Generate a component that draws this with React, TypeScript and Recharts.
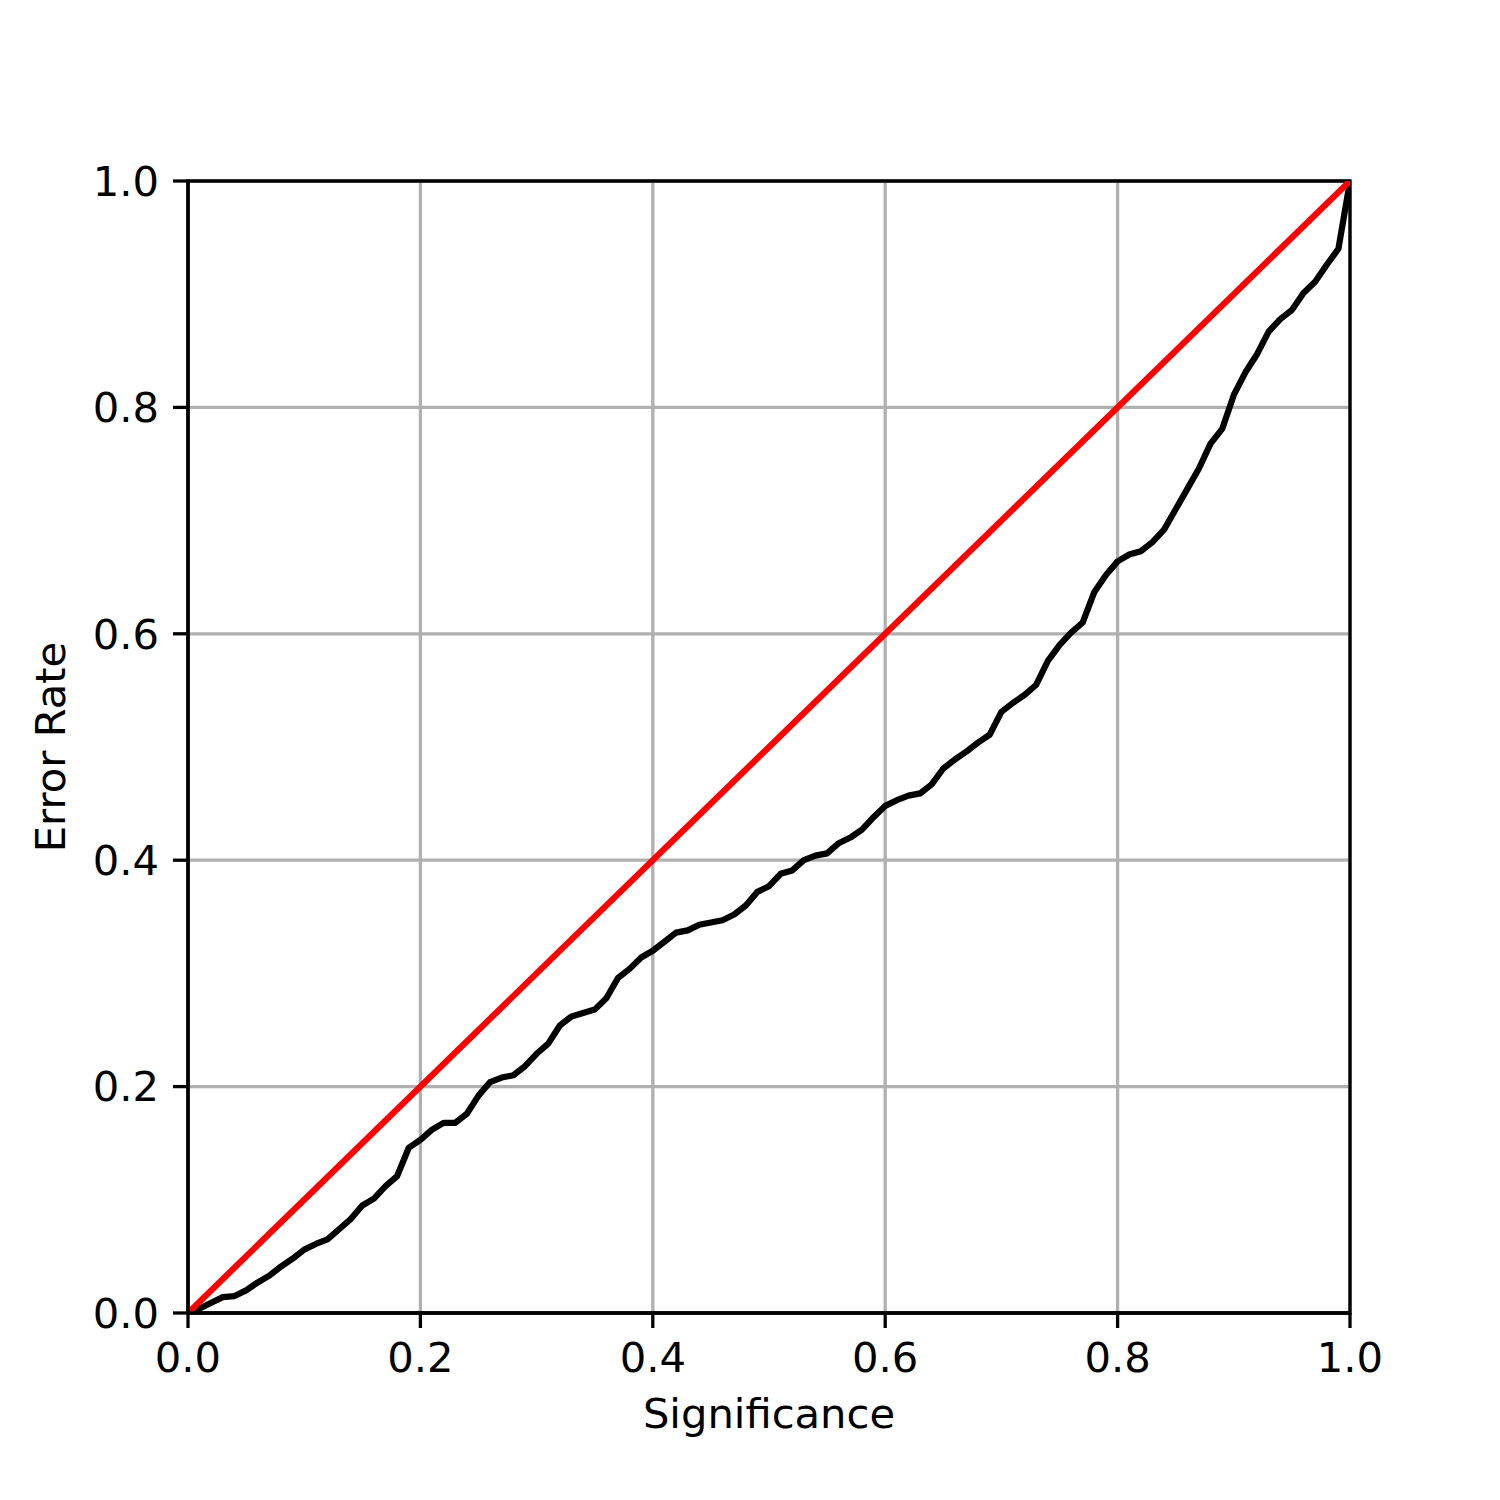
import {
  LineChart,
  Line,
  XAxis,
  YAxis,
  CartesianGrid,
  ReferenceArea,
  Label
} from 'recharts'

const significance = [
  0.0, 0.01, 0.02, 0.03, 0.04, 0.05, 0.06, 0.07, 0.08, 0.09,
  0.1, 0.11, 0.12, 0.13, 0.14, 0.15, 0.16, 0.17, 0.18, 0.19,
  0.2, 0.21, 0.22, 0.23, 0.24, 0.25, 0.26, 0.27, 0.28, 0.29,
  0.3, 0.31, 0.32, 0.33, 0.34, 0.35, 0.36, 0.37, 0.38, 0.39,
  0.4, 0.41, 0.42, 0.43, 0.44, 0.45, 0.46, 0.47, 0.48, 0.49,
  0.5, 0.51, 0.52, 0.53, 0.54, 0.55, 0.56, 0.57, 0.58, 0.59,
  0.6, 0.61, 0.62, 0.63, 0.64, 0.65, 0.66, 0.67, 0.68, 0.69,
  0.7, 0.71, 0.72, 0.73, 0.74, 0.75, 0.76, 0.77, 0.78, 0.79,
  0.8, 0.81, 0.82, 0.83, 0.84, 0.85, 0.86, 0.87, 0.88, 0.89,
  0.9, 0.91, 0.92, 0.93, 0.94, 0.95, 0.96, 0.97, 0.98, 0.99,
  1.0
]

const errorRate = [
  0.0, 0.004, 0.009, 0.014, 0.015, 0.02, 0.027, 0.033, 0.041, 0.048,
  0.056, 0.061, 0.065, 0.074, 0.083, 0.095, 0.101, 0.112, 0.121, 0.146,
  0.153, 0.162, 0.168, 0.168, 0.176, 0.192, 0.204, 0.208, 0.21, 0.218,
  0.229, 0.238, 0.254, 0.262, 0.265, 0.268, 0.278, 0.296, 0.304, 0.314,
  0.32, 0.328, 0.336, 0.338, 0.343, 0.345, 0.347, 0.352, 0.36, 0.372,
  0.377, 0.388, 0.391, 0.4, 0.404, 0.406, 0.415, 0.42, 0.427, 0.438,
  0.448, 0.453, 0.457, 0.459, 0.467, 0.481, 0.489, 0.496, 0.504, 0.511,
  0.531, 0.539, 0.546, 0.555, 0.576, 0.59, 0.601, 0.61, 0.637, 0.652,
  0.664, 0.67, 0.673, 0.681, 0.692, 0.71, 0.728, 0.746, 0.768, 0.781,
  0.811, 0.831, 0.847, 0.867, 0.878, 0.886, 0.901, 0.911, 0.926, 0.94,
  1.0
]

// ideal calibration line: error rate equals significance
const idealX = [0, 1]
const idealY = [0, 1]

const axisTicks = [0, 0.2, 0.4, 0.6, 0.8, 1.0]

const data = significance.map((s, i) => ({ s, err: errorRate[i] }))
const idealData = idealX.map((s, i) => ({ s, ideal: idealY[i] }))

const FONT = 'DejaVu Sans'
const FONT_SIZE = 41.7
const THIN = 3.3
const THICK = 6.25

const tickStyle = { fontFamily: FONT, fontSize: FONT_SIZE, fill: '#000' }

export default function App() {
  return (
    <div style={{ position: 'absolute', left: 0, top: 0, width: 1500, height: 1500, background: '#fff' }}>
      <LineChart
        width={1500}
        height={1500}
        data={data}
        margin={{ top: 181, right: 150, left: 0, bottom: 0 }}
      >
        <CartesianGrid stroke="#b0b0b0" strokeWidth={THIN} />
        <XAxis
          type="number"
          dataKey="s"
          domain={[0, 1]}
          ticks={axisTicks}
          tickFormatter={(v: number) => v.toFixed(1)}
          height={187}
          tickSize={15}
          tickMargin={14}
          tick={tickStyle}
          axisLine={{ stroke: '#000', strokeWidth: THIN }}
          tickLine={{ stroke: '#000', strokeWidth: THIN }}
          allowDataOverflow
        >
          <Label
            content={({ viewBox }: any) => (
              <text
                x={viewBox.x + viewBox.width / 2}
                y={viewBox.y + 115}
                textAnchor="middle"
                fontFamily={FONT}
                fontSize={FONT_SIZE}
                fill="#000"
              >
                Significance
              </text>
            )}
          />
        </XAxis>
        <YAxis
          type="number"
          domain={[0, 1]}
          ticks={axisTicks}
          tickFormatter={(v: number) => v.toFixed(1)}
          width={188}
          tickSize={15}
          tickMargin={14}
          tick={tickStyle}
          axisLine={{ stroke: '#000', strokeWidth: THIN }}
          tickLine={{ stroke: '#000', strokeWidth: THIN }}
          allowDataOverflow
        >
          <Label
            content={({ viewBox }: any) => {
              const cx = viewBox.x + 65
              const cy = viewBox.y + viewBox.height / 2
              return (
                <text
                  x={cx}
                  y={cy}
                  transform={`rotate(-90, ${cx}, ${cy})`}
                  textAnchor="middle"
                  fontFamily={FONT}
                  fontSize={FONT_SIZE}
                  fill="#000"
                >
                  Error Rate
                </text>
              )
            }}
          />
        </YAxis>
        <Line
          type="linear"
          dataKey="err"
          stroke="#000"
          strokeWidth={THICK}
          strokeLinejoin="round"
          dot={false}
          activeDot={false}
          isAnimationActive={false}
        />
        <Line
          type="linear"
          data={idealData}
          dataKey="ideal"
          stroke="#ff0000"
          strokeWidth={THICK}
          dot={false}
          activeDot={false}
          isAnimationActive={false}
        />
        <ReferenceArea
          x1={0}
          x2={1}
          y1={0}
          y2={1}
          fill="none"
          stroke="#000"
          strokeWidth={THIN}
          ifOverflow="visible"
        />
      </LineChart>
    </div>
  )
}
